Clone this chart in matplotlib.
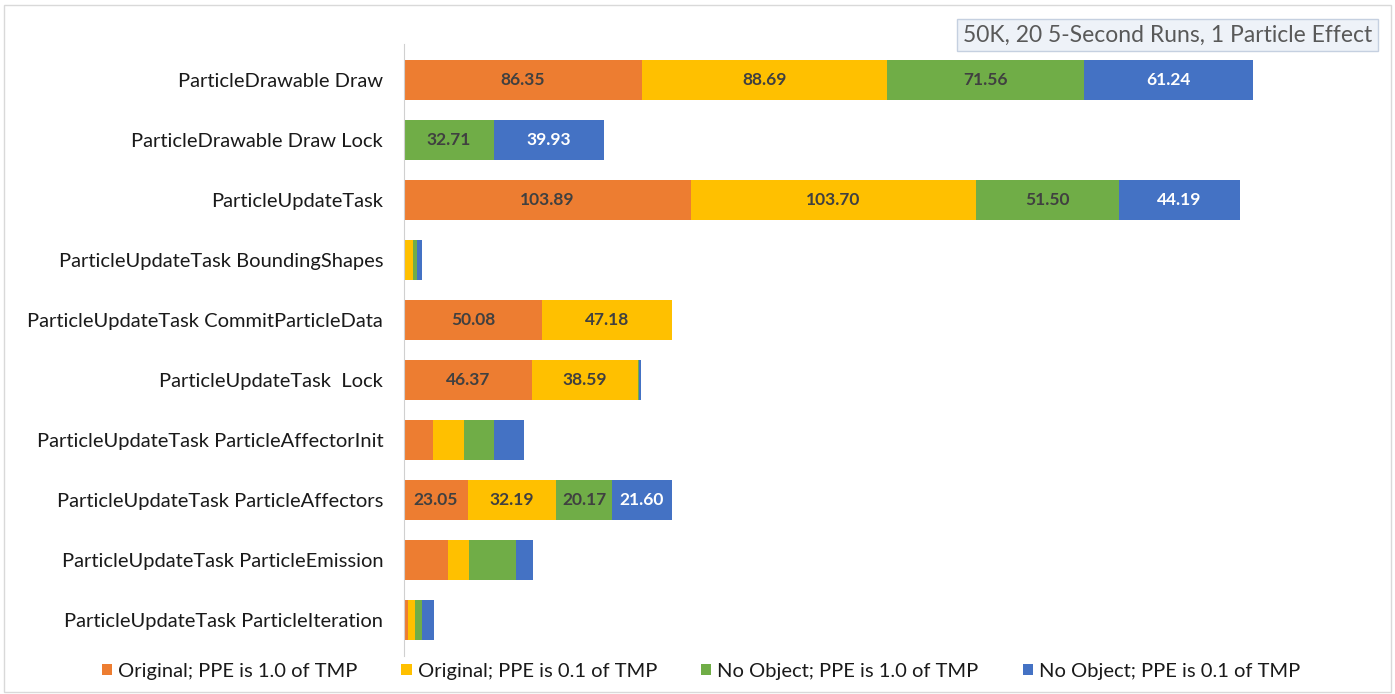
import numpy as np
import matplotlib.pyplot as plt
from matplotlib.patches import Rectangle

plt.rcParams['font.family'] = ['Lato', 'DejaVu Sans']

categories = ['ParticleDrawable Draw', 'ParticleDrawable Draw Lock',
              'ParticleUpdateTask', 'ParticleUpdateTask BoundingShapes',
              'ParticleUpdateTask CommitParticleData', 'ParticleUpdateTask  Lock',
              'ParticleUpdateTask ParticleAffectorInit',
              'ParticleUpdateTask ParticleAffectors',
              'ParticleUpdateTask ParticleEmission',
              'ParticleUpdateTask ParticleIteration']
series = ['Original; PPE is 1.0 of TMP', 'Original; PPE is 0.1 of TMP',
          'No Object; PPE is 1.0 of TMP', 'No Object; PPE is 0.1 of TMP']
orig_10 = [86.35, 0, 103.89, 0.5, 50.08, 46.37, 10.6, 23.05, 16.1, 1.5]
orig_01 = [88.69, 0, 103.70, 2.6, 47.18, 38.59, 11.2, 32.19, 7.5, 2.4]
noobj_10 = [71.56, 32.71, 51.50, 1.5, 0, 0.3, 10.9, 20.17, 16.9, 2.6]
noobj_01 = [61.24, 39.93, 44.19, 2.0, 0, 0.6, 10.9, 21.60, 6.4, 4.3]
# which segments carry a data label
labelled = ['ParticleDrawable Draw', 'ParticleDrawable Draw Lock', 'ParticleUpdateTask',
            'ParticleUpdateTask CommitParticleData', 'ParticleUpdateTask  Lock',
            'ParticleUpdateTask ParticleAffectors']
title = '50K, 20 5-Second Runs, 1 Particle Effect'

colors = ['#ED7D31', '#FFC000', '#70AD47', '#4472C4']
txt_colors = ['#404040', '#404040', '#404040', 'white']

fig = plt.figure(figsize=(13.95, 6.94), dpi=100)
ax = fig.add_axes([404/1395, 1-650/694, (1383-404)/1395, 600/694])

y = np.arange(len(categories))
left = np.zeros(len(categories))
for vals, name, c, tc in zip([orig_10, orig_01, noobj_10, noobj_01], series, colors, txt_colors):
    vals = np.array(vals)
    ax.barh(y, vals, left=left, height=0.67, color=c, label=name)
    for i, v in enumerate(vals):
        if categories[i] in labelled and v > 5:
            ax.text(left[i] + v/2, y[i], f'{v:.2f}', ha='center', va='center',
                    fontsize=12.5, fontweight='bold', color=tc)
    left += vals

ax.set_xlim(0, 355)
ax.set_ylim(len(categories) - 0.5, -0.5)
ax.set_yticks(y, labels=categories, fontsize=14.5, color='#1a1a1a')
ax.tick_params(axis='y', length=0, pad=15)
ax.set_xticks([])
for s in ['top', 'right', 'bottom']:
    ax.spines[s].set_visible(False)
ax.spines['left'].set_color('#d0d0d0')
ax.spines['left'].set_bounds(-0.6, len(categories) - 0.4)

fig.text(1372/1395, 1-35/694, title, ha='right', va='center', fontsize=16.5, color='#595959',
         bbox=dict(boxstyle='square,pad=0.25', fc='#eef2f8', ec='#c5d0e0', lw=1))

fig.legend(loc='center', bbox_to_anchor=(701/1395, 1-671/694), ncol=4, frameon=False,
           fontsize=14.5, handlelength=0.5, handleheight=0.5, columnspacing=2.2,
           handletextpad=0.3, labelcolor='#1a1a1a')
fig.patches.append(Rectangle((0.003, 0.003), 0.994, 0.99, transform=fig.transFigure,
                             fill=False, ec='#d9d9d9', lw=1))

fig.savefig('out.png', dpi=100)
